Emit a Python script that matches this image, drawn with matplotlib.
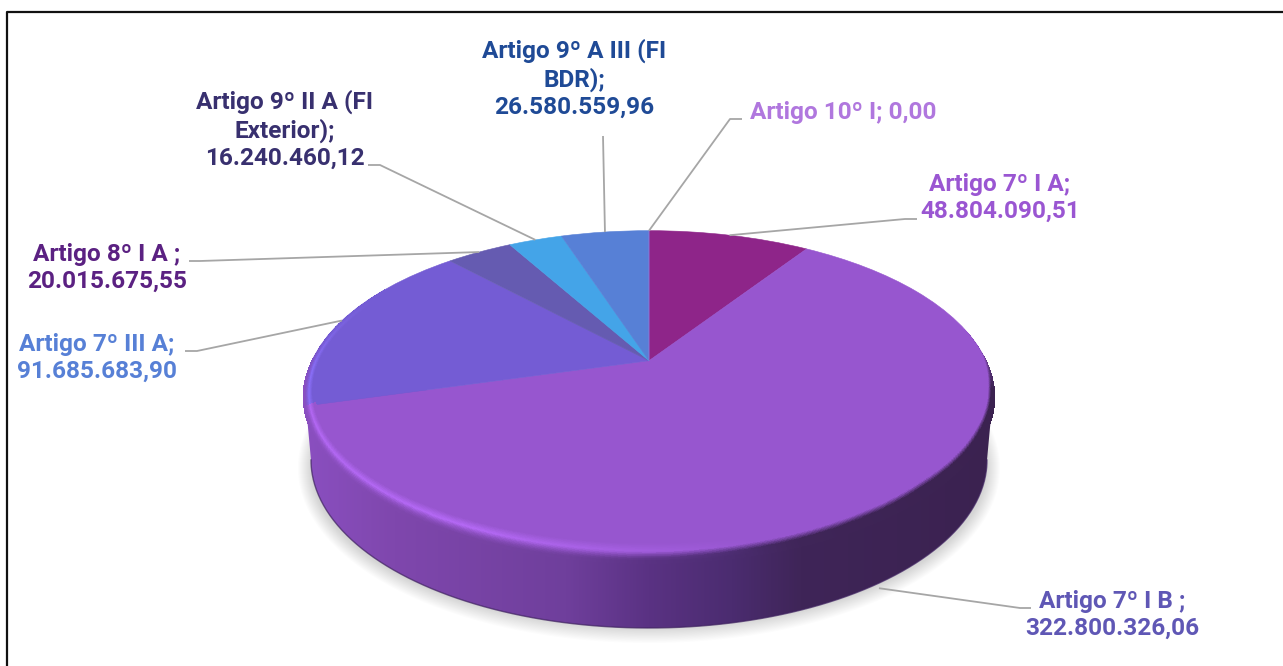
#!/usr/bin/env python3
"""Tilted 3D looking pie of allocation per Artigo."""

import matplotlib

matplotlib.use("Agg")
import matplotlib.pyplot as plt
import numpy as np
from matplotlib.colors import LinearSegmentedColormap, to_rgb
from matplotlib.path import Path
from matplotlib.patches import PathPatch
from matplotlib.transforms import Transform

# data
names = [
    "Artigo 7º I A;",
    "Artigo 7º I B ;",
    "Artigo 7º III A;",
    "Artigo 8º I A ;",
    "Artigo 9º II A (FI\nExterior);",
    "Artigo 9º A III (FI\nBDR);",
    "Artigo 10º I;",
]
values = [48804090.51, 322800326.06, 91685683.90, 20015675.55, 16240460.12, 26580559.96, 0.0]
slice_colors = ["#8e2589", "#9756cf", "#745cd4", "#655bb1", "#44a4e8", "#5780d6", "#b077de"]
label_colors = ["#9a56d2", "#5f57b5", "#5780d6", "#5b2182", "#38306f", "#1f4a96", "#b077de"]

# layout, in image pixels
label_xy = [(1000, 198), (1112, 615), (97, 358), (107, 268), (285, 130), (574, 79), (843, 112)]
elbows = [
    [(905, 219), (917, 219)],
    [(1020, 608), (1031, 608)],
    [(197, 351), (185, 351)],
    [(200, 261), (189, 261)],
    [(380, 165), (368, 165)],
    [(603, 136)],
    [(730, 119), (742, 119)],
]
CX, CY = 649.0, 360.7
AX, BY, K = 337.0, 157.6, 0.212
WALL_CY, WALL_RX, WALL_RY = 460.0, 338.0, 168.0


def tilt(u, v):
    w = 1 + K * v
    return CX + AX * u / w, CY - BY * v / w


class TiltTransform(Transform):
    input_dims = 2
    output_dims = 2

    def transform_non_affine(self, values):
        values = np.asarray(values)
        x, y = tilt(values[:, 0], values[:, 1])
        return np.column_stack([x, y])


def format_br(v):
    return f"{v:,.2f}".replace(",", "#").replace(".", ",").replace("#", ".")


fig = plt.figure(figsize=(12.83, 6.66), dpi=100)
ax = fig.add_axes([0, 0, 1, 1])

wedges, _ = ax.pie(values, colors=slice_colors, startangle=90, counterclock=False,
                   wedgeprops={"zorder": 3, "linewidth": 0.4})
tilt_tr = TiltTransform() + ax.transData
for wedge, color in zip(wedges, slice_colors):
    wedge.set_transform(tilt_tr)
    wedge.set_edgecolor(color)

# soft shadow under the disc
phi = np.linspace(0, 2 * np.pi, 240)
for i in range(14):
    ax.fill(CX + (WALL_RX + i) * np.cos(phi), 468 + (160 + i * 1.15) * np.sin(phi),
            color="#808080", alpha=0.022, lw=0, zorder=1)

# side wall
wall_cmap = LinearSegmentedColormap.from_list(
    "wall",
    [(0.0, "#8a4fc0"), (0.13, "#7f47ad"), (0.38, "#6f3f9c"), (0.5, "#5a3283"),
     (0.62, "#4b2c70"), (0.72, "#3f2558"), (1.0, "#3b2250")],
)
phi_low = np.radians(np.linspace(180, 0, 300))
low_x = CX + WALL_RX * np.cos(phi_low)
low_y = WALL_CY + WALL_RY * np.sin(phi_low)
t_far = np.radians(np.linspace(100, -100, 300))
far_x, far_y = tilt(np.sin(t_far), np.cos(t_far))
wall_xy = np.column_stack([np.r_[low_x, far_x, low_x[0]], np.r_[low_y, far_y, low_y[0]]])
wall_path = PathPatch(Path(wall_xy), transform=ax.transData, fc="none", ec="none")
ax.add_patch(wall_path)
img = ax.imshow(np.linspace(0, 1, 256)[None, :], cmap=wall_cmap, extent=(304, 994, 630, 390),
                aspect="auto", zorder=2, vmin=0, vmax=1)
img.set_clip_path(wall_path)
ax.plot(low_x, low_y, color="#3f2260", lw=1.0, alpha=0.7, zorder=2.5)

# bevel along the edge of the top face, starts a bit outside so no wedge edge peeks out
th_deg = np.linspace(78, 300, 900)
depth = np.linspace(-0.012, 0.09, 40)
th_c = 0.5 * (th_deg[:-1] + th_deg[1:])
d_c = 0.5 * (depth[:-1] + depth[1:])
fracs = np.cumsum(values) / np.sum(values) * 360
top_rgb = np.array([to_rgb(slice_colors[i]) for i in np.searchsorted(fracs, th_c)])
lite_rgb = np.clip(top_rgb * 1.16 + 0.02, 0, 1)
light = np.interp(th_c, [165, 205, 265, 295], [0, 1, 0.9, 0])[:, None]
has_wall = np.interp(th_c, [78, 100, 262, 280], [0, 1, 1, 0])[:, None]
dark_edge = np.interp(th_c, [88, 100, 115, 135, 160, 185], [0.0, 0.035, 0.052, 0.055, 0.035, 0.02])[:, None]
grid_wall = np.interp(th_deg, [84, 100, 262, 274], [0, 1, 1, 0])[:, None]
grid_d = np.where(depth[None, :] < 0, depth[None, :] * grid_wall, depth[None, :])
th_r = np.radians(th_deg)[:, None]
mesh_x, mesh_y = tilt(np.sin(th_r) * (1 - 0.3 * grid_d), np.cos(th_r) * (1 - grid_d))
cols = np.zeros((len(th_c), len(d_c), 4))
cols[..., 3] = 1
cx = tilt(np.sin(np.radians(th_c)), np.cos(np.radians(th_c)))[0]
wall_rgb = wall_cmap((cx - 304) / 690)[:, :3]
for j, d in enumerate(d_c):
    w_lit = np.clip(1 - d / 0.04, 0, 1)
    w_dark = np.clip((dark_edge + 0.012 - d) / 0.024, 0, 1)
    w = (light * w_lit + (1 - light) * w_dark) * has_wall
    glow = light * np.clip(1 - abs(d - 0.04) / 0.03, 0, 1)
    surface = glow * lite_rgb + (1 - glow) * top_rgb
    cols[:, j, :3] = w * wall_rgb + (1 - w) * surface
ax.pcolormesh(mesh_x, mesh_y, cols, shading="flat", zorder=4, antialiased=False, edgecolors="none")

# leader lines and labels
mids = np.radians(fracs - np.array(values) / np.sum(values) * 180)
for i, name in enumerate(names):
    ax_x, ax_y = tilt(np.sin(mids[i]), np.cos(mids[i]))
    if i == 1:
        ax_x, ax_y = ax_x - 10, ax_y + 74
    xs = [ax_x] + [p[0] for p in elbows[i]]
    ys = [ax_y] + [p[1] for p in elbows[i]]
    ax.plot(xs, ys, color="#a6a6a6", lw=1.3, zorder=5, solid_capstyle="butt")
    sep = " " if name == "Artigo 10º I;" else "\n"
    ax.text(label_xy[i][0], label_xy[i][1], f"{name}{sep}{format_br(values[i])}",
            color=label_colors[i], ha="center", va="center", ma="center",
            family="Roboto", fontweight="bold", fontsize=17.6, linespacing=1.22, zorder=6)

# outer frame
ax.plot([7, 7, 1283], [666, 12, 12], color="#111111", lw=1.6, zorder=7)

ax.set_aspect("auto")
ax.set_xlim(0, 1283)
ax.set_ylim(666, 0)
ax.axis("off")
fig.savefig("out.png", dpi=100, facecolor="white")
